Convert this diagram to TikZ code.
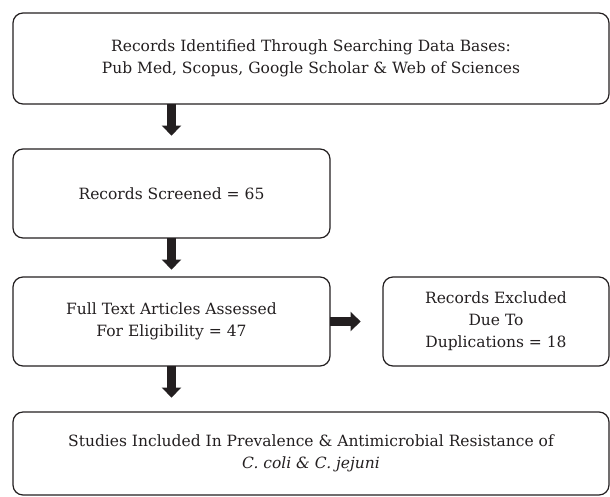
\documentclass[tikz,border=0pt]{standalone}
\usepackage{fontspec}
\setmainfont{DejaVu Serif}
\usetikzlibrary{arrows.meta}
\definecolor{ink}{HTML}{231F20}
\begin{document}
\begin{tikzpicture}[x=1pt,y=-1pt,
  box/.style={draw=ink, line width=1.2pt, rounded corners=10pt, align=center,
    inner sep=0pt, text=ink, font=\fontsize{15.5}{22}\selectfont},
  fatarrow/.style={draw=ink, line width=9pt, -{Triangle[width=19pt,length=10pt]}}]
\useasboundingbox (0,0) rectangle (610,496);
\node[box, minimum width=596pt, minimum height=91pt] (b1) at (311,58.5)
  {Records Identified Through Searching Data Bases:\\Pub Med, Scopus, Google Scholar \& Web of Sciences};
\node[box, minimum width=317pt, minimum height=89pt] (b2) at (171.5,193.5)
  {Records Screened = 65};
\node[box, minimum width=317pt, minimum height=89pt] (b3) at (171.5,321.5)
  {Full Text Articles Assessed\\For Eligibility = 47};
\node[box, minimum width=226pt, minimum height=89pt] (b4) at (496,321.5)
  {Records Excluded\\Due To\\Duplications = 18};
\node[box, minimum width=596pt, minimum height=83pt] (b5) at (311,453.5)
  {Studies Included In Prevalence \& Antimicrobial Resistance of\\\textit{C. coli \& C. jejuni}};
\coordinate (s1) at (b2.north |- b1.south);
\coordinate (e1) at ([yshift=-31pt]s1);
\coordinate (e2) at ([yshift=-31pt]b2.south);
\coordinate (e3) at ([yshift=-31pt]b3.south);
\coordinate (e4) at ([xshift=30pt]b3.east);
\draw[fatarrow] ([yshift=0.6pt]s1) -- (e1);
\draw[fatarrow] ([yshift=0.6pt]b2.south) -- (e2);
\draw[fatarrow] ([yshift=0.6pt]b3.south) -- (e3);
\draw[fatarrow] ([xshift=-0.6pt]b3.east) -- (e4);
\end{tikzpicture}
\end{document}
